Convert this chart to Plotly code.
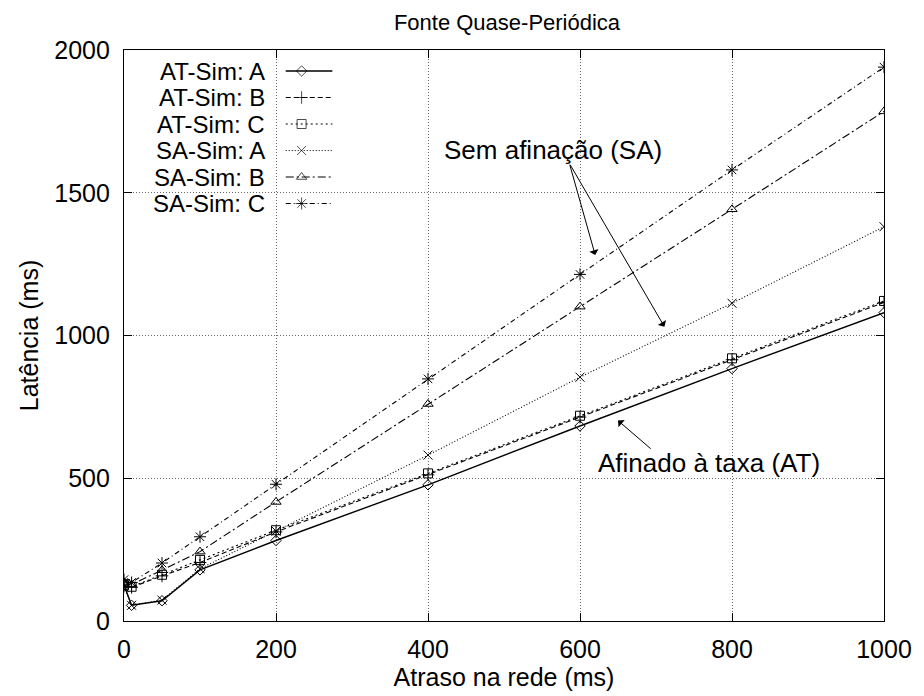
import plotly.graph_objects as go

# ---------------- data ----------------
delay = [0, 10, 50, 100, 200, 400, 600, 800, 1000]
at_sim_a = [126, 55, 71, 179, 282, 477, 683, 884, 1080]
at_sim_b = [122, 118, 158, 205, 312, 512, 714, 915, 1116]
at_sim_c = [125, 120, 162, 214, 318, 517, 719, 920, 1121]
sa_sim_a = [118, 55, 73, 183, 315, 581, 854, 1113, 1381]
sa_sim_b = [135, 128, 178, 243, 417, 760, 1101, 1442, 1785]
sa_sim_c = [145, 135, 203, 295, 479, 848, 1214, 1580, 1940]

series_names = ["AT-Sim: A", "AT-Sim: B", "AT-Sim: C", "SA-Sim: A", "SA-Sim: B", "SA-Sim: C"]
series_values = [at_sim_a, at_sim_b, at_sim_c, sa_sim_a, sa_sim_b, sa_sim_c]
x_ticks = [0, 200, 400, 600, 800, 1000]
y_ticks = [0, 500, 1000, 1500, 2000]

# ---------------- styles ----------------
symbols = ["diamond-open", "cross-thin-open", "square-open", "x-thin-open", "triangle-up-open", "asterisk-open"]
dashes = ["solid", "5px,3px", "2px,3px", "1px,2px", "8px,3px,2px,3px", "5px,3px,1px,3px"]
widths = [1.4, 1.1, 1.1, 1.1, 1.1, 1.1]
sizes = [8, 9, 9, 9, 9, 10]

FONT = "Liberation Sans, Arial, Helvetica, sans-serif"
W, H = 924, 696
L, R, T, B = 124, 890, 50, 621

fig = go.Figure()

for name, vals, sym, dsh, wd, sz in zip(series_names, series_values, symbols, dashes, widths, sizes):
    fig.add_trace(go.Scatter(
        x=delay, y=vals, name=name, mode="lines+markers",
        line=dict(color="black", width=wd, dash=dsh),
        marker=dict(symbol=sym, size=sz, color="black",
                    line=dict(color="black", width=1)),
        showlegend=False,
    ))

# ---------------- custom gnuplot-style legend (text left, sample right) ----------------
leg_text_right = 268
leg_row0 = 71
leg_row_step = 26.5
samp_x0, samp_x1, samp_xm = 287, 334, 303
for i, (name, sym, dsh, wd, sz) in enumerate(zip(series_names, symbols, dashes, widths, sizes)):
    yy = leg_row0 + i * leg_row_step
    fig.add_trace(go.Scatter(
        x=[samp_x0, samp_xm, samp_x1], y=[yy, yy, yy], mode="lines+markers",
        line=dict(color="black", width=wd, dash=dsh),
        marker=dict(symbol=sym, size=[0, sz, 0], color="black",
                    line=dict(color="black", width=1)),
        xaxis="x2", yaxis="y2", showlegend=False, hoverinfo="skip",
    ))
    fig.add_annotation(x=leg_text_right, y=yy, xref="x2", yref="y2", text=name,
                       showarrow=False, xanchor="right", yanchor="middle",
                       font=dict(family=FONT, size=24, color="black"))

# ---------------- annotations ----------------
ann_font = dict(family=FONT, size=26, color="black")
fig.add_annotation(x=565, y=1650, xref="x", yref="y", text="Sem afinação (SA)",
                   showarrow=False, font=ann_font)
for ex, ey in [(620, 1282), (711, 1031)]:
    fig.add_annotation(x=ex, y=ey, ax=586, ay=1603, xref="x", yref="y", axref="x", ayref="y",
                       text="", showarrow=True, arrowhead=1, arrowsize=1.6, arrowwidth=1,
                       arrowcolor="black")
fig.add_annotation(x=770, y=554, xref="x", yref="y", text="Afinado à taxa (AT)",
                   showarrow=False, font=ann_font)
fig.add_annotation(x=650, y=702, ax=695, ay=599, xref="x", yref="y", axref="x", ayref="y",
                   text="", showarrow=True, arrowhead=1, arrowsize=1.6, arrowwidth=1,
                   arrowcolor="black")

axis_common = dict(
    showline=True, linecolor="black", linewidth=1.2, mirror="ticks",
    ticks="inside", ticklen=8, tickcolor="black", tickwidth=1,
    showgrid=True, gridcolor="#666666", griddash="1px,2px", gridwidth=1,
    zeroline=False, tickfont=dict(family=FONT, size=25, color="black"),
)

fig.update_layout(
    width=W, height=H,
    margin=dict(l=L, r=W - R, t=T, b=H - B),
    paper_bgcolor="white", plot_bgcolor="white",
    title=dict(text="Fonte Quase-Periódica", x=(L + R) / 2 / W, xanchor="center",
               y=1 - 22 / H, yanchor="middle",
               font=dict(family=FONT, size=22, color="black")),
    xaxis=dict(range=[0, 1000], tickvals=x_ticks, ticklabelstandoff=6,
               title=dict(text="Atraso na rede (ms)", standoff=0,
                          font=dict(family=FONT, size=25, color="black")),
               **axis_common),
    yaxis=dict(range=[0, 2000], tickvals=y_ticks, ticklabelstandoff=8,
               title=dict(text="Latência (ms)", standoff=8,
                          font=dict(family=FONT, size=25, color="black")),
               **axis_common),
    xaxis2=dict(range=[L, R], overlaying="x", visible=False, anchor="y2"),
    yaxis2=dict(range=[B, T], overlaying="y", visible=False, anchor="x2"),
    showlegend=False,
)

fig.write_html("out.html")
